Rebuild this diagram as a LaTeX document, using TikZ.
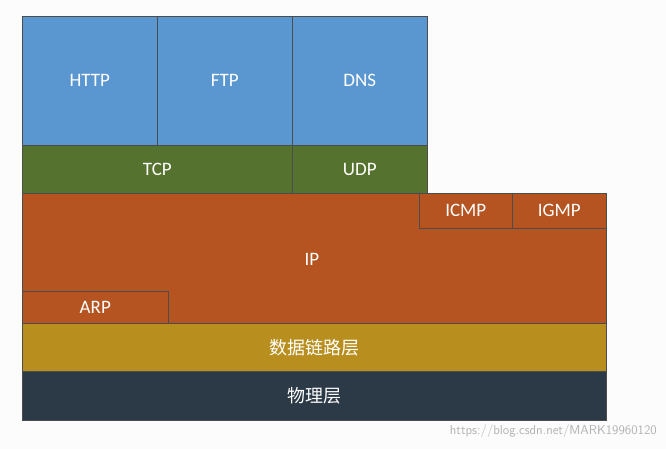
\documentclass[tikz,border=0pt]{standalone}
\usepackage{fontspec}
\setmainfont{Carlito}
\newfontfamily\cjk{Noto Sans CJK SC}
\begin{document}
\begin{tikzpicture}[x=1pt,y=-1pt,
  blk/.style={draw=black!70,line width=0.6pt,text=white,font=\fontsize{19}{22}\selectfont,inner sep=0pt,anchor=north west}]
\definecolor{appblue}{HTML}{5A96D0}
\definecolor{tgreen}{HTML}{55722E}
\definecolor{iporange}{HTML}{B55321}
\definecolor{dlgold}{HTML}{B88E1E}
\definecolor{phdark}{HTML}{2C3947}
\fill[white!99!black] (0,0) rectangle (666,449);
\useasboundingbox (0,0) rectangle (666,449);
\node[blk,fill=appblue,minimum width=135pt,minimum height=129pt] (http) at (22,16) {HTTP};
\node[blk,fill=appblue,minimum width=135pt,minimum height=129pt] (ftp) at (157,16) {FTP};
\node[blk,fill=appblue,minimum width=135pt,minimum height=129pt] (dns) at (292,16) {DNS};
\node[blk,fill=tgreen,minimum width=270pt,minimum height=48pt] (tcp) at (22,145) {TCP};
\node[blk,fill=tgreen,minimum width=135pt,minimum height=48pt] (udp) at (292,145) {UDP};
\node[blk,fill=iporange,minimum width=584pt,minimum height=130pt] (ip) at (22,193) {};
\node[text=white,font=\fontsize{19}{22}\selectfont] (iplbl) at (312,259) {IP};
\node[blk,fill=iporange,minimum width=93pt,minimum height=35pt] (icmp) at (419,193) {ICMP};
\node[blk,fill=iporange,minimum width=94pt,minimum height=35pt] (igmp) at (512,193) {IGMP};
\node[blk,fill=iporange,minimum width=146pt,minimum height=32pt] (arp) at (22,291) {ARP};
\node[blk,fill=dlgold,minimum width=584pt,minimum height=48pt] (dl) at (22,323) {\cjk\fontsize{18}{22}\selectfont 数据链路层};
\node[blk,fill=phdark,minimum width=584pt,minimum height=49pt] (ph) at (22,371) {\cjk\fontsize{18}{22}\selectfont 物理层};
\node[text=black!30,font=\fontsize{13}{14}\selectfont\sffamily,anchor=east,inner sep=0pt] (wm) at (657,431) {https://blog.csdn.net/MARK19960120};
\end{tikzpicture}
\end{document}
